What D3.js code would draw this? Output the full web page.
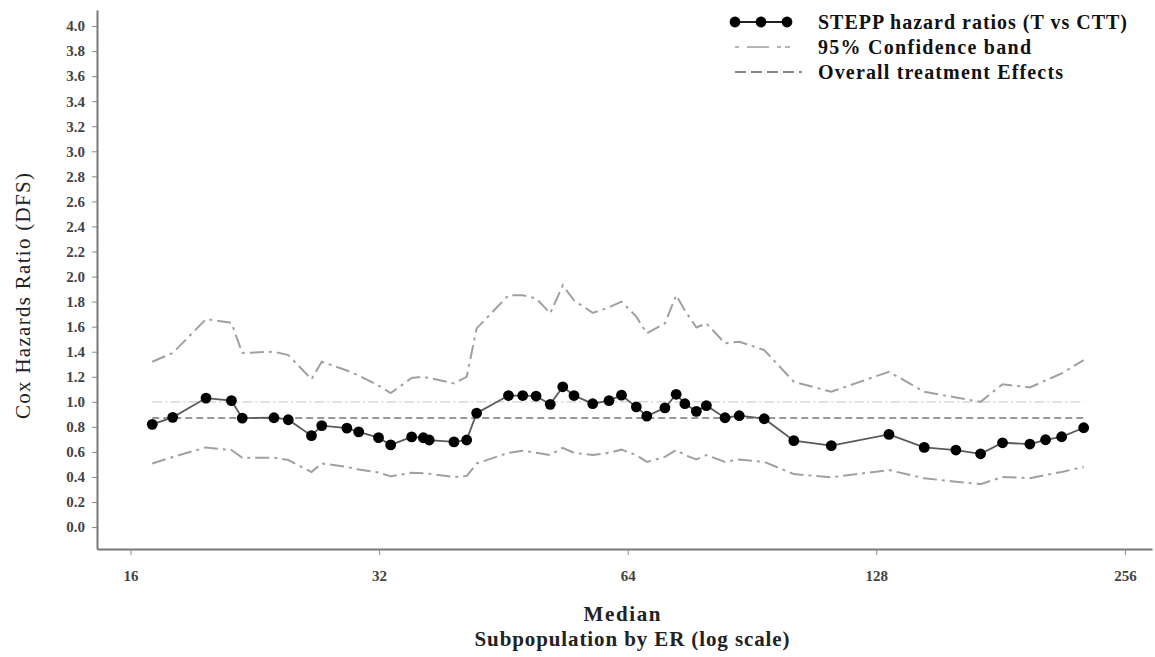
<!DOCTYPE html>
<html>
<head>
<meta charset="utf-8">
<script src="https://cdn.jsdelivr.net/npm/d3@7"></script>
<style>
  html, body { margin: 0; padding: 0; background: #fff; }
  svg { display: block; }
</style>
</head>
<body>
<svg id="chart" width="1155" height="657"></svg>
<script>
// ---- Data ----
const medians = [17.0, 18.0, 19.75, 21.2, 21.85, 23.87, 24.84, 26.5, 27.27, 29.25,
  30.23, 31.95, 33.05, 35.04, 36.2, 36.8, 39.43, 40.85, 42.0, 45.9,
  47.76, 49.57, 51.57, 53.4, 55.1, 58.05, 60.75, 62.9, 65.56, 67.5,
  71.0, 73.26, 75.06, 77.5, 79.7, 83.95, 87.35, 93.65, 101.7, 112.9,
  132.6, 146.3, 159.8, 171.2, 182.0, 196.4, 205.2, 214.6, 228.2];
const hazardRatios = [0.82, 0.876, 1.03, 1.01, 0.87, 0.873, 0.857, 0.73, 0.81, 0.79,
  0.76, 0.714, 0.656, 0.72, 0.713, 0.695, 0.68, 0.695, 0.91, 1.05,
  1.05, 1.046, 0.98, 1.12, 1.05, 0.985, 1.01, 1.053, 0.96, 0.886,
  0.952, 1.06, 0.985, 0.924, 0.97, 0.873, 0.889, 0.865, 0.69, 0.65,
  0.74, 0.636, 0.615, 0.585, 0.673, 0.663, 0.697, 0.721, 0.793];
const upperCI = [1.32, 1.39, 1.66, 1.63, 1.39, 1.40, 1.373, 1.18, 1.32, 1.25,
  1.21, 1.13, 1.07, 1.19, 1.2, 1.19, 1.147, 1.2, 1.586, 1.85,
  1.85, 1.826, 1.706, 1.93, 1.81, 1.71, 1.754, 1.8, 1.68, 1.546,
  1.626, 1.85, 1.73, 1.594, 1.626, 1.467, 1.48, 1.413, 1.16, 1.08,
  1.24, 1.08, 1.035, 1.0, 1.14, 1.115, 1.17, 1.227, 1.333];
const lowerCI = [0.508, 0.56, 0.636, 0.615, 0.553, 0.553, 0.535, 0.44, 0.508, 0.48,
  0.46, 0.435, 0.405, 0.434, 0.43, 0.425, 0.40, 0.407, 0.508, 0.593,
  0.61, 0.593, 0.575, 0.633, 0.593, 0.575, 0.593, 0.618, 0.575, 0.52,
  0.56, 0.615, 0.575, 0.54, 0.575, 0.52, 0.54, 0.52, 0.423, 0.397,
  0.455, 0.39, 0.362, 0.343, 0.40, 0.39, 0.415, 0.44, 0.48];
const overallEffect = 0.87;
const nullEffect = 1.0;
const xTicks = [16, 32, 64, 128, 256];
const yTicks = [0.0, 0.2, 0.4, 0.6, 0.8, 1.0, 1.2, 1.4, 1.6, 1.8, 2.0, 2.2, 2.4, 2.6, 2.8, 3.0, 3.2, 3.4, 3.6, 3.8, 4.0];
const legendLabels = ["STEPP hazard ratios (T vs CTT)", "95% Confidence band", "Overall treatment Effects"];
const yTitle = "Cox Hazards Ratio (DFS)";
const xTitle1 = "Median";
const xTitle2 = "Subpopulation by ER (log scale)";

// ---- Layout ----
const svg = d3.select("#chart");
const plotL = 97, plotR = 1152, plotT = 10, plotB = 549;
const serif = "'Liberation Serif', 'DejaVu Serif', serif";

const pxPerDoubling = 248.6;
const x16 = 130.5;
const x = d3.scaleLog().base(2)
  .domain([16 * Math.pow(2, (plotL - x16) / pxPerDoubling), 16 * Math.pow(2, (plotR - x16) / pxPerDoubling)])
  .range([plotL, plotR]);
const y = d3.scaleLinear().domain([-0.175, 4.128]).range([plotB, plotT]);

// ---- Axes ----
const xAxis = svg.append("g").attr("transform", `translate(0,${plotB})`)
  .call(d3.axisBottom(x).tickValues(xTicks).tickFormat(d3.format("d")).tickSizeOuter(0).tickSizeInner(6).tickPadding(15));
const yAxis = svg.append("g").attr("transform", `translate(${plotL},0)`)
  .call(d3.axisLeft(y).tickValues(yTicks).tickFormat(d3.format(".1f")).tickSizeOuter(0).tickSizeInner(5).tickPadding(7));
[xAxis, yAxis].forEach(g => {
  g.select(".domain").attr("stroke", "#777").attr("stroke-width", 2);
  g.selectAll(".tick line").attr("stroke", "#888").attr("stroke-width", 1);
  g.selectAll(".tick text").attr("fill", "#444").attr("font-family", serif)
    .attr("font-weight", "bold").attr("font-size", 15);
});

// ---- Reference lines ----
const xFirst = x(medians[0]), xLast = x(medians[medians.length - 1]);
svg.append("line").attr("x1", xFirst).attr("x2", xLast)
  .attr("y1", y(nullEffect)).attr("y2", y(nullEffect))
  .attr("stroke", "#cfcfcf").attr("stroke-width", 1.3).attr("stroke-dasharray", "10,3,2,3");
svg.append("line").attr("x1", xFirst).attr("x2", xLast)
  .attr("y1", y(overallEffect)).attr("y2", y(overallEffect))
  .attr("stroke", "#777").attr("stroke-width", 1.5).attr("stroke-dasharray", "7,4");

// ---- Confidence band ----
const ciDash = "14,5,3,5";
[upperCI, lowerCI].forEach(arr => {
  svg.append("path")
    .datum(medians.map((m, i) => [m, arr[i]]))
    .attr("fill", "none").attr("stroke", "#a0a0a0").attr("stroke-width", 2)
    .attr("stroke-dasharray", ciDash)
    .attr("d", d3.line().x(d => x(d[0])).y(d => y(d[1])));
});

// ---- Hazard ratio line + points ----
const hr = medians.map((m, i) => [m, hazardRatios[i]]);
svg.append("path").datum(hr)
  .attr("fill", "none").attr("stroke", "#5a5a5a").attr("stroke-width", 1.8)
  .attr("d", d3.line().x(d => x(d[0])).y(d => y(d[1])));
svg.append("g").selectAll("circle").data(hr).join("circle")
  .attr("cx", d => x(d[0])).attr("cy", d => y(d[1])).attr("r", 5.4).attr("fill", "#000");

// ---- Legend ----
const lg = svg.append("g");
const lx0 = 735, lx1 = 790, ltx = 818;
const ly = [22, 47, 72];
const legendWidths = [309, 213, 245];
lg.append("line").attr("x1", lx0).attr("x2", lx0 + 52).attr("y1", ly[0]).attr("y2", ly[0])
  .attr("stroke", "#222").attr("stroke-width", 2);
[lx0, lx0 + 26, lx0 + 52].forEach(cx => lg.append("circle").attr("cx", cx).attr("cy", ly[0]).attr("r", 5.4).attr("fill", "#000"));
lg.append("line").attr("x1", lx0).attr("x2", lx1).attr("y1", ly[1]).attr("y2", ly[1])
  .attr("stroke", "#b4b4b4").attr("stroke-width", 2).attr("stroke-dasharray", "4,8,22,8,4");
lg.append("line").attr("x1", lx0).attr("x2", lx1 + 12).attr("y1", ly[2]).attr("y2", ly[2])
  .attr("stroke", "#888").attr("stroke-width", 2).attr("stroke-dasharray", "11,5");
legendLabels.forEach((t, i) => lg.append("text").attr("x", ltx).attr("y", ly[i]).attr("dy", "0.35em")
  .attr("font-family", serif).attr("font-weight", "bold").attr("font-size", 20).attr("fill", "#111")
  .attr("textLength", legendWidths[i]).attr("lengthAdjust", "spacing").text(t));

// ---- Axis titles ----
svg.append("text").attr("transform", `translate(23,${296}) rotate(-90)`)
  .attr("text-anchor", "middle").attr("dy", "0.35em")
  .attr("font-family", serif).attr("font-size", 21).attr("fill", "#222")
  .attr("textLength", 246).attr("lengthAdjust", "spacing").text(yTitle);
svg.append("text").attr("x", 622).attr("y", 621).attr("text-anchor", "middle")
  .attr("font-family", serif).attr("font-weight", "bold").attr("font-size", 21).attr("fill", "#222")
  .attr("textLength", 77).attr("lengthAdjust", "spacing").text(xTitle1);
svg.append("text").attr("x", 632).attr("y", 646).attr("text-anchor", "middle")
  .attr("font-family", serif).attr("font-weight", "bold").attr("font-size", 21).attr("fill", "#222")
  .attr("textLength", 315).attr("lengthAdjust", "spacing").text(xTitle2);
</script>
</body>
</html>
